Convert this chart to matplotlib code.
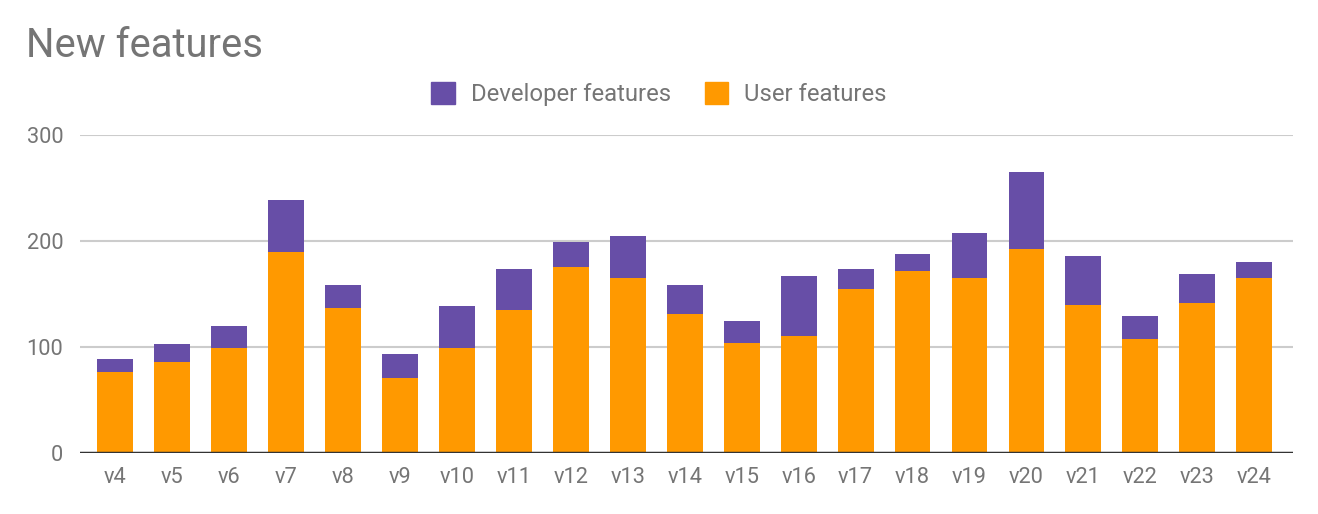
import numpy as np
import matplotlib.pyplot as plt
from matplotlib.patches import Patch

# ----------------------------
# Data
# ----------------------------
versions = ["v4", "v5", "v6", "v7", "v8", "v9", "v10", "v11", "v12", "v13", "v14",
            "v15", "v16", "v17", "v18", "v19", "v20", "v21", "v22", "v23", "v24"]
user_features = [76, 86, 99, 190, 137, 71, 99, 135, 176, 165, 131,
                 104, 110, 155, 172, 165, 193, 140, 108, 142, 165]
developer_features = [13, 17, 21, 49, 22, 22, 40, 39, 23, 40, 28,
                      21, 57, 19, 16, 43, 72, 46, 21, 27, 15]
y_ticks = [0, 100, 200, 300]

USER_COLOR = "#ff9900"
DEV_COLOR = "#674ea7"
TEXT_GRAY = "#757575"

plt.rcParams["font.family"] = ["Roboto", "DejaVu Sans"]

fig = plt.figure(figsize=(13.18, 5.14), dpi=100)
ax = fig.add_axes([0.0607, 0.1187, 0.9203, 0.6183])

x = np.arange(len(versions))
ax.bar(x, user_features, width=0.63, color=USER_COLOR, zorder=2, label="User features")
ax.bar(x, developer_features, width=0.63, bottom=user_features, color=DEV_COLOR,
       zorder=2, label="Developer features")

ax.set_xlim(-0.62, len(versions) - 1 + 0.68)
ax.set_ylim(0, 300)
ax.set_yticks(y_ticks)
ax.set_xticks(x)
ax.set_xticklabels(versions)

ax.grid(axis="y", color="#cccccc", linewidth=1.5, zorder=0)
ax.axhline(0, color="#333333", linewidth=2.5, zorder=3)
for s in ax.spines.values():
    s.set_visible(False)
ax.tick_params(axis="both", length=0, labelsize=15.7, labelcolor=TEXT_GRAY)
ax.tick_params(axis="y", pad=12)
ax.tick_params(axis="x", pad=10)

fig.text(0.0195, 0.912, "New features", fontsize=28.8, color=TEXT_GRAY, va="center")

handles = [Patch(color=DEV_COLOR, label="Developer features"),
           Patch(color=USER_COLOR, label="User features")]
fig.legend(handles=handles, loc="center", bbox_to_anchor=(0.5, 0.817), ncol=2,
           frameon=False, fontsize=17.2, labelcolor=TEXT_GRAY,
           handlelength=1.0, handleheight=1.0, handletextpad=0.66, columnspacing=1.4)

fig.savefig("out.png", dpi=100)
